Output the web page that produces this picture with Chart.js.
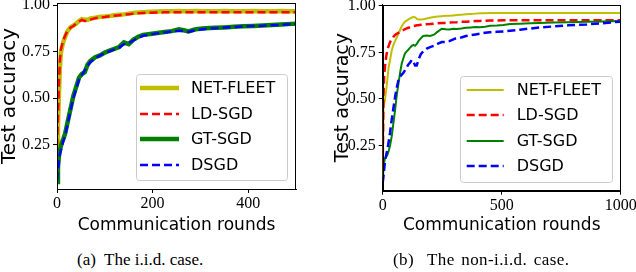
<!DOCTYPE html>
<html>
<head>
<meta charset="utf-8">
<script src="https://cdn.jsdelivr.net/npm/chart.js@4.4.1/dist/chart.umd.min.js"></script>
<style>
  html, body { margin: 0; padding: 0; background: #fff; }
  body { width: 636px; height: 272px; position: relative; overflow: hidden; }
  canvas { position: absolute; top: -10px; }
  #iidChart { left: 0; }
  #noniidChart { left: 318px; }
  .caption {
    position: absolute; top: 250px; line-height: 20px; white-space: nowrap;
    font-family: "Liberation Serif", serif; font-size: 17px; color: #000;
  }
</style>
</head>
<body>
<canvas id="iidChart" width="330" height="245"></canvas>
<canvas id="noniidChart" width="330" height="245"></canvas>
<div class="caption" style="left:77px">(a)&nbsp; The i.i.d. case.</div>
<div class="caption" style="left:393px; word-spacing:2px; letter-spacing:0.4px">(b)&nbsp; The non-i.i.d. case.</div>

<script>
// ---- data ----
const seriesNames = ['NET-FLEET', 'LD-SGD', 'GT-SGD', 'DSGD'];
const yTicks = [0.25, 0.5, 0.75, 1.0];

// (a) i.i.d. case
const iidXTicks = [0, 200, 400];
const iidRounds = [0, 2, 4, 6, 8, 10, 13, 17, 22, 28, 34, 40, 46, 52, 58, 64, 70, 80, 90, 100,
    110, 120, 130, 140, 150, 160, 170, 180, 195, 210, 225, 240, 255, 265, 275, 290, 310, 330,
    350, 370, 390, 410, 430, 450, 470, 490, 500];
const iidNetFleet = [0.22, 0.35, 0.52, 0.66, 0.74, 0.77, 0.80, 0.83, 0.86, 0.88, 0.89, 0.90, 0.915,
    0.925, 0.922, 0.92, 0.928, 0.932, 0.937, 0.938, 0.941, 0.945, 0.948, 0.95, 0.954, 0.958, 0.96,
    0.962, 0.964, 0.966, 0.967, 0.967, 0.968, 0.967, 0.967, 0.968, 0.967, 0.967, 0.968, 0.967,
    0.967, 0.968, 0.967, 0.967, 0.968, 0.967, 0.967];
const iidLdSgd = [0.24, 0.40, 0.57, 0.70, 0.76, 0.78, 0.81, 0.835, 0.862, 0.878, 0.888, 0.90, 0.912,
    0.92, 0.915, 0.914, 0.922, 0.93, 0.934, 0.936, 0.94, 0.943, 0.945, 0.948, 0.951, 0.954, 0.956,
    0.958, 0.959, 0.96, 0.961, 0.961, 0.962, 0.961, 0.962, 0.961, 0.962, 0.962, 0.961, 0.962,
    0.962, 0.961, 0.962, 0.962, 0.962, 0.961, 0.962];
const iidGtSgd = [0.05, 0.13, 0.19, 0.22, 0.24, 0.26, 0.28, 0.31, 0.37, 0.44, 0.51, 0.56, 0.61,
    0.63, 0.64, 0.68, 0.70, 0.72, 0.73, 0.745, 0.755, 0.765, 0.775, 0.80, 0.79, 0.815, 0.83, 0.84,
    0.845, 0.85, 0.855, 0.86, 0.87, 0.865, 0.858, 0.87, 0.875, 0.878, 0.88, 0.883, 0.886, 0.888,
    0.89, 0.893, 0.896, 0.899, 0.90];
const iidDsgd = [0.06, 0.11, 0.16, 0.20, 0.22, 0.24, 0.27, 0.30, 0.36, 0.43, 0.50, 0.55, 0.60,
    0.625, 0.65, 0.675, 0.695, 0.715, 0.73, 0.742, 0.752, 0.762, 0.772, 0.79, 0.795, 0.81, 0.825,
    0.835, 0.842, 0.848, 0.853, 0.858, 0.862, 0.86, 0.855, 0.866, 0.872, 0.876, 0.879, 0.882,
    0.885, 0.887, 0.889, 0.892, 0.894, 0.897, 0.898];

// (b) non-i.i.d. case
const noniidXTicks = [0, 500, 1000];
const noniidRounds = [0, 3, 6, 10, 15, 20, 25, 31, 38, 45, 52, 59, 66, 73, 80, 87, 94, 101, 108,
    115, 122, 129, 136, 143, 150, 160, 170, 185, 199, 215, 230, 248, 265, 280, 297, 311, 330, 350,
    370, 390, 409, 430, 451, 480, 507, 535, 577, 620, 660, 717, 780, 857, 920, 997, 1000];
const noniidNetFleet = [0.08, 0.44, 0.47, 0.50, 0.55, 0.61, 0.67, 0.71, 0.76, 0.79, 0.81, 0.83,
    0.85, 0.87, 0.89, 0.905, 0.915, 0.92, 0.927, 0.932, 0.937, 0.941, 0.938, 0.93, 0.927, 0.926,
    0.928, 0.932, 0.936, 0.94, 0.942, 0.944, 0.946, 0.946, 0.948, 0.95, 0.952, 0.954, 0.956,
    0.958, 0.96, 0.96, 0.961, 0.961, 0.961, 0.961, 0.961, 0.961, 0.961, 0.961, 0.961, 0.961,
    0.961, 0.961, 0.961];
const noniidLdSgd = [0.13, 0.50, 0.62, 0.68, 0.73, 0.765, 0.785, 0.805, 0.82, 0.833, 0.843, 0.85,
    0.855, 0.86, 0.865, 0.87, 0.875, 0.879, 0.882, 0.885, 0.888, 0.891, 0.893, 0.895, 0.896,
    0.898, 0.90, 0.901, 0.902, 0.904, 0.906, 0.907, 0.908, 0.91, 0.911, 0.912, 0.914, 0.915,
    0.916, 0.918, 0.919, 0.92, 0.921, 0.921, 0.922, 0.923, 0.923, 0.922, 0.922, 0.922, 0.923,
    0.922, 0.923, 0.923, 0.923];
const noniidGtSgd = [0.06, 0.12, 0.16, 0.18, 0.19, 0.20, 0.22, 0.25, 0.30, 0.37, 0.44, 0.52, 0.58,
    0.64, 0.69, 0.72, 0.745, 0.755, 0.765, 0.775, 0.785, 0.79, 0.785, 0.795, 0.81, 0.825, 0.838,
    0.84, 0.838, 0.845, 0.86, 0.877, 0.874, 0.873, 0.877, 0.876, 0.878, 0.882, 0.884, 0.886,
    0.885, 0.887, 0.893, 0.894, 0.897, 0.902, 0.904, 0.906, 0.907, 0.91, 0.912, 0.914, 0.916,
    0.918, 0.918];
const noniidDsgd = [0.05, 0.08, 0.12, 0.17, 0.20, 0.23, 0.27, 0.32, 0.39, 0.45, 0.51, 0.56, 0.60,
    0.62, 0.63, 0.64, 0.655, 0.67, 0.685, 0.695, 0.71, 0.70, 0.68, 0.68, 0.71, 0.74, 0.755, 0.77,
    0.778, 0.785, 0.795, 0.805, 0.805, 0.81, 0.82, 0.827, 0.83, 0.838, 0.842, 0.846, 0.85, 0.855,
    0.858, 0.86, 0.862, 0.866, 0.872, 0.878, 0.884, 0.889, 0.895, 0.90, 0.906, 0.915, 0.915];

// ---- styling ----
const COLORS = ['#bfbf00', '#ff0000', '#008000', '#0000ff'];
const DASHED = [false, true, false, true];
const SERIF = '"Liberation Serif", "Times New Roman", serif';
const SANS = '"DejaVu Sans", sans-serif';

/**
 * Draws the top/right spines (Chart.js only draws the axis borders)
 * and a matplotlib-style legend box in the lower right of the plot area.
 */
const frameAndLegend = {
    id: 'frameAndLegend',
    afterDatasetsDraw(chart) {
        const { ctx, chartArea: a } = chart;
        ctx.save();
        ctx.strokeStyle = '#000';
        ctx.lineWidth = 1;
        ctx.strokeRect(Math.round(a.left) + 0.5, Math.round(a.top) + 0.5,
            Math.round(a.right - a.left) - 1, Math.round(a.bottom - a.top));
        ctx.restore();
    },
    afterDraw(chart, args, opts) {
        const { ctx, chartArea: a } = chart;
        const x0 = a.right - opts.margin - opts.width;
        const y0 = a.bottom - opts.margin - opts.height;

        ctx.save();
        ctx.beginPath();
        ctx.roundRect(Math.round(x0) + 0.5, Math.round(y0) + 0.5, opts.width, opts.height, 3);
        ctx.fillStyle = 'rgba(255,255,255,0.8)';
        ctx.fill();
        ctx.strokeStyle = '#cccccc';
        ctx.lineWidth = 1;
        ctx.stroke();

        ctx.font = '16px ' + SANS;
        ctx.textBaseline = 'middle';
        ctx.fillStyle = '#000';
        // legend rows follow series order, not draw order
        const rows = [...chart.data.datasets].sort((p, q) => p.order < q.order ? 1 : -1);
        rows.forEach((ds, i) => {
            const y = Math.round(y0 + opts.firstRow + i * opts.rowGap);
            ctx.beginPath();
            ctx.strokeStyle = ds.borderColor;
            ctx.lineWidth = ds.borderWidth;
            ctx.setLineDash(ds.borderDash || []);
            ctx.moveTo(x0 + opts.handleX, y);
            ctx.lineTo(x0 + opts.handleX + opts.handleLen, y);
            ctx.stroke();
            ctx.setLineDash([]);
            ctx.fillText(ds.label, x0 + opts.textX, y + 1);
        });
        ctx.restore();
    }
};

function makeDatasets(rounds, valueLists, solidWidth, dashWidth) {
    return valueLists.map((vals, i) => ({
        label: seriesNames[i],
        data: rounds.map((r, k) => ({ x: r, y: vals[k] })),
        borderColor: COLORS[i],
        borderWidth: DASHED[i] ? dashWidth : solidWidth,
        borderDash: DASHED[i] ? [8, 4] : [],
        pointRadius: 0,
        tension: 0,
        fill: false,
        order: seriesNames.length - i   // later series drawn on top
    }));
}

function renderPanel(id, cfg) {
    const ctx = document.getElementById(id).getContext('2d');
    return new Chart(ctx, {
        type: 'line',
        data: { datasets: makeDatasets(cfg.rounds, cfg.series, cfg.solidWidth, cfg.dashWidth) },
        plugins: [frameAndLegend],
        options: {
            responsive: false,
            animation: false,
            events: [],
            layout: { padding: { top: cfg.padTop, right: cfg.padRight, left: 0, bottom: 0 } },
            plugins: {
                legend: { display: false },
                tooltip: { enabled: false },
                frameAndLegend: cfg.legend
            },
            scales: {
                x: {
                    type: 'linear',
                    min: 0,
                    max: cfg.xMax,
                    afterBuildTicks: s => { s.ticks = cfg.xTicks.map(v => ({ value: v })); },
                    afterFit: s => { s.height = cfg.xAxisHeight; },
                    grid: { drawOnChartArea: false, drawTicks: true, tickLength: 4, color: '#000' },
                    border: { color: '#000', width: 1 },
                    ticks: {
                        color: '#000', padding: 1, maxRotation: 0, autoSkip: false,
                        font: { family: SERIF, size: 16 },
                        callback: v => String(v)
                    },
                    title: {
                        display: true, text: 'Communication rounds', color: '#000',
                        font: { family: SANS, size: 17, lineHeight: 1 },
                        padding: { top: 0, bottom: 1 }
                    }
                },
                y: {
                    min: cfg.yMin,
                    max: cfg.yMax,
                    afterBuildTicks: s => { s.ticks = yTicks.map(v => ({ value: v })); },
                    afterFit: s => { s.width = cfg.yAxisWidth; },
                    grid: { drawOnChartArea: false, drawTicks: true, tickLength: 4, color: '#000' },
                    border: { color: '#000', width: 1 },
                    ticks: {
                        color: '#000', padding: 3,
                        font: { family: SERIF, size: 16 },
                        callback: v => v.toFixed(2)
                    },
                    title: {
                        display: true, text: 'Test accuracy', color: '#000',
                        font: { family: SANS, size: cfg.yTitleSize, lineHeight: 1 },
                        padding: { top: cfg.yTitlePad, bottom: 0 }
                    }
                }
            }
        }
    });
}

renderPanel('iidChart', {
    rounds: iidRounds,
    series: [iidNetFleet, iidLdSgd, iidGtSgd, iidDsgd],
    xTicks: iidXTicks, xMax: 500,
    yMin: 0.013, yMax: 1.011,
    solidWidth: 4.5, dashWidth: 2.5,
    padTop: 13, padRight: 34, xAxisHeight: 46, yAxisWidth: 57,
    yTitleSize: 20, yTitlePad: 0,
    legend: { width: 151, height: 106, margin: 9, handleX: 4, handleLen: 39, textX: 55, firstRow: 14, rowGap: 25.6 }
});

renderPanel('noniidChart', {
    rounds: noniidRounds,
    series: [noniidNetFleet, noniidLdSgd, noniidGtSgd, noniidDsgd],
    xTicks: noniidXTicks, xMax: 1000,
    yMin: 0.007, yMax: 1.007,
    solidWidth: 2, dashWidth: 2.5,
    padTop: 14.5, padRight: 27.3, xAxisHeight: 44.3, yAxisWidth: 64.7,
    yTitleSize: 19, yTitlePad: 16,
    legend: { width: 152, height: 106, margin: 9, handleX: 7, handleLen: 37, textX: 57, firstRow: 14, rowGap: 25.4 }
});
</script>
</body>
</html>
